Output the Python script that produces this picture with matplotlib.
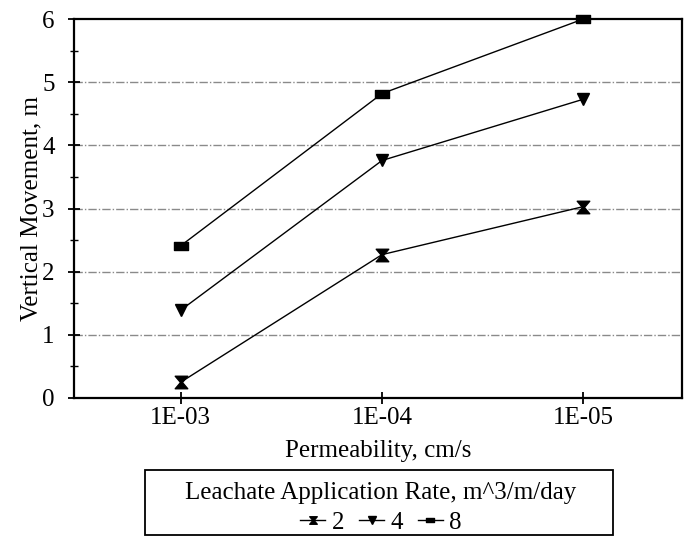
import matplotlib
matplotlib.use("Agg")
import matplotlib.pyplot as plt
from matplotlib.path import Path
from matplotlib.patches import Rectangle
import numpy as np

plt.rcParams['font.family'] = ['Liberation Serif', 'DejaVu Serif']

categories = ["1E-03", "1E-04", "1E-05"]
rate_2 = [0.25, 2.27, 3.03]
rate_4 = [1.39, 3.76, 4.73]
rate_8 = [2.41, 4.82, 6.0]
series_labels = ["2", "4", "8"]
y_ticks = [0, 1, 2, 3, 4, 5, 6]

# marker shapes
hourglass = Path([(-1, 1), (1, 1), (0.15, 0.0), (1, -1), (-1, -1), (-0.15, 0.0), (-1, 1)],
                 [Path.MOVETO, Path.LINETO, Path.LINETO, Path.LINETO, Path.LINETO, Path.LINETO, Path.CLOSEPOLY])
rect = Path([(-1, -0.55), (1, -0.55), (1, 0.55), (-1, 0.55), (-1, -0.55)],
            [Path.MOVETO, Path.LINETO, Path.LINETO, Path.LINETO, Path.CLOSEPOLY])

W, H = 687, 537
fig = plt.figure(figsize=(W / 100, H / 100), dpi=100)
ax = fig.add_axes([74 / W, 1 - 398 / H, (682 - 74) / W, (398 - 19) / H])

x = np.arange(1, len(categories) + 1)
for yv in y_ticks[1:-1]:
    ax.axhline(yv, color='#8a8a8a', lw=1.0, ls=(0, (6, 1.5, 1, 1.5)), zorder=0)

ax.plot(x, rate_2, color='black', lw=1.0, marker=hourglass, ms=9, label=series_labels[0], clip_on=False)
ax.plot(x, rate_4, color='black', lw=1.0, marker='v', ms=9, label=series_labels[1], clip_on=False)
ax.plot(x, rate_8, color='black', lw=1.0, marker=rect, ms=10.5, label=series_labels[2], clip_on=False)

ax.set_xlim(0.47, 3.49)
ax.set_ylim(0, 6)
ax.set_xticks(x)
ax.set_xticklabels(categories)
ax.set_yticks(y_ticks)
ax.set_yticks(np.arange(0.5, 6, 1.0), minor=True)
ax.tick_params(axis='both', which='major', direction='inout', length=9, width=1.3, labelsize=18)
ax.tick_params(axis='y', which='major', pad=9.5)
ax.tick_params(axis='x', which='major', pad=2)
ax.tick_params(axis='y', which='minor', direction='inout', length=6, width=1.0)
for s in ax.spines.values():
    s.set_linewidth(1.6)

ax.set_xlabel("Permeability, cm/s", fontsize=18, labelpad=8)
ax.set_ylabel("Vertical Movement, m", fontsize=18, labelpad=0)

handles, labels = ax.get_legend_handles_labels()
leg = fig.legend(handles, labels, title="Leachate Application Rate, m^3/m/day", ncol=3,
                 loc='center', bbox_to_anchor=(381 / W, 1 - 508 / H),
                 fontsize=18, title_fontsize=18, frameon=False,
                 handlelength=1.0, handletextpad=0.25, columnspacing=0.6,
                 borderpad=0.0, labelspacing=0.1, markerscale=0.6)
leg._legend_box.sep = 5
fig.add_artist(Rectangle((145 / W, 1 - 535 / H), (613 - 145) / W, (535 - 470) / H,
                         transform=fig.transFigure, fill=False, ec='black', lw=1.3))

fig.savefig("out.png", dpi=100)
